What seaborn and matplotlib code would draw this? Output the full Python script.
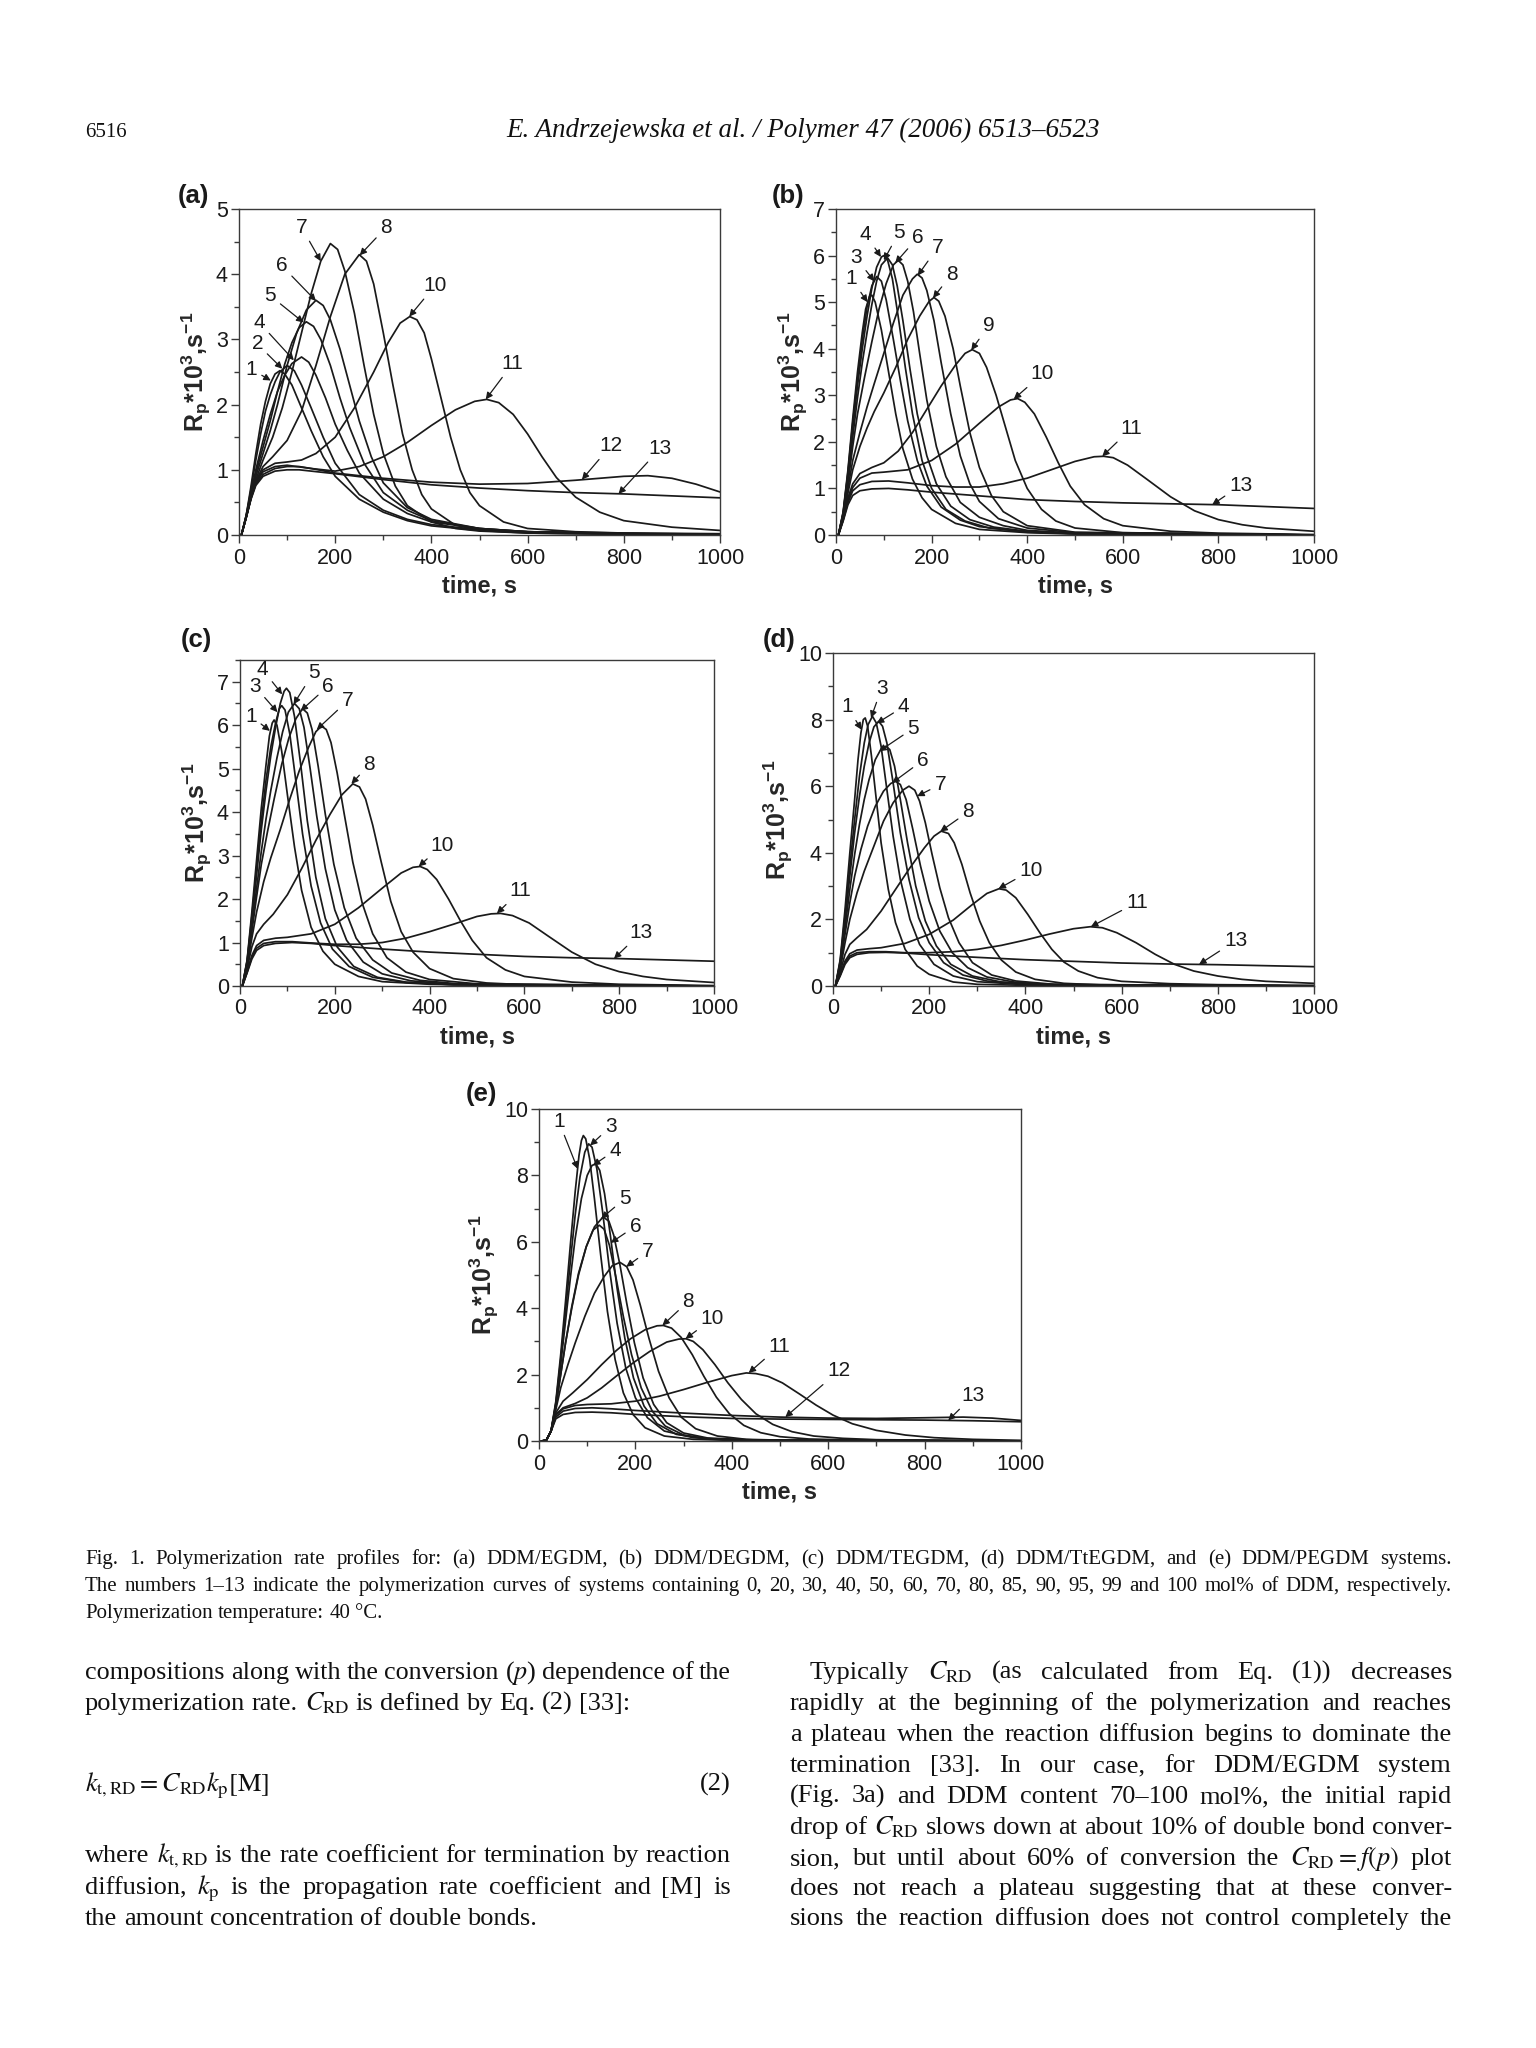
import matplotlib
matplotlib.use('Agg')
import matplotlib.pyplot as plt
from matplotlib.ticker import MultipleLocator
import pandas as pd
import seaborn as sns

W, H = 1536, 2048
INK = '#1a1a1a'

# Rp*10^3 (s^-1) against time (s)
# each curve is a list of (time, rate)

# (a) DDM/EGDM
A1 = [(5, 0), (15, 0.3), (25, 0.75), (35, 1.25), (45, 1.7), (55, 2.05), (65, 2.32), (75, 2.47), (85, 2.52),
      (95, 2.47), (110, 2.3), (130, 1.95), (150, 1.6), (175, 1.2), (200, 0.9), (250, 0.55), (300, 0.35),
      (350, 0.22), (400, 0.14), (500, 0.07), (600, 0.04), (800, 0.02), (1000, 0.01)]
A2 = [(5, 0), (15, 0.3), (25, 0.7), (35, 1.15), (45, 1.55), (55, 1.9), (65, 2.15), (75, 2.35), (85, 2.5),
      (100, 2.6), (115, 2.52), (130, 2.3), (150, 1.95), (175, 1.5), (200, 1.1), (250, 0.62), (300, 0.38),
      (350, 0.24), (400, 0.16), (500, 0.08), (600, 0.05), (800, 0.03), (1000, 0.02)]
A4 = [(5, 0), (15, 0.3), (25, 0.65), (35, 1.0), (50, 1.45), (65, 1.85), (80, 2.2), (95, 2.45), (110, 2.63),
      (130, 2.73), (145, 2.65), (160, 2.45), (180, 2.1), (200, 1.7), (225, 1.3), (250, 0.95), (300, 0.55),
      (350, 0.33), (400, 0.2), (500, 0.1), (600, 0.05), (800, 0.02), (1000, 0.01)]
A5 = [(5, 0), (15, 0.28), (25, 0.62), (35, 0.95), (50, 1.35), (65, 1.75), (80, 2.2), (95, 2.62), (110, 2.95),
      (125, 3.18), (140, 3.27), (155, 3.2), (170, 3.0), (190, 2.6), (210, 2.1), (230, 1.65), (260, 1.1),
      (300, 0.65), (350, 0.38), (400, 0.22), (500, 0.1), (600, 0.05), (800, 0.02), (1000, 0.01)]
A6 = [(5, 0), (15, 0.28), (25, 0.6), (35, 0.9), (50, 1.25), (65, 1.6), (80, 2.0), (100, 2.6), (120, 3.1),
      (140, 3.45), (160, 3.6), (175, 3.52), (190, 3.3), (210, 2.85), (230, 2.3), (250, 1.75), (275, 1.2),
      (300, 0.8), (350, 0.42), (400, 0.24), (500, 0.1), (600, 0.05), (800, 0.02), (1000, 0.01)]
A7 = [(5, 0), (15, 0.27), (25, 0.58), (35, 0.85), (50, 1.15), (70, 1.5), (90, 1.95), (110, 2.5), (130, 3.1),
      (150, 3.7), (170, 4.2), (190, 4.47), (205, 4.38), (220, 4.05), (240, 3.4), (260, 2.6), (280, 1.85),
      (300, 1.25), (325, 0.75), (350, 0.45), (400, 0.2), (450, 0.1), (500, 0.06), (600, 0.03), (800, 0.01),
      (1000, 0.0)]
A8 = [(5, 0), (15, 0.27), (25, 0.58), (35, 0.83), (50, 1.05), (70, 1.2), (100, 1.45), (130, 1.9), (160, 2.6),
      (190, 3.35), (220, 4.0), (250, 4.3), (265, 4.2), (280, 3.85), (300, 3.1), (320, 2.3), (340, 1.55),
      (360, 1.0), (380, 0.62), (400, 0.4), (450, 0.15), (500, 0.07), (600, 0.03), (800, 0.01), (1000, 0.0)]
A10 = [(5, 0), (15, 0.27), (25, 0.57), (35, 0.82), (50, 1.0), (75, 1.1), (100, 1.12), (130, 1.15), (160, 1.25),
       (200, 1.5), (240, 1.95), (280, 2.5), (310, 2.95), (335, 3.25), (355, 3.35), (370, 3.3), (385, 3.1),
       (400, 2.7), (420, 2.1), (440, 1.5), (460, 1.0), (480, 0.65), (500, 0.45), (550, 0.2), (600, 0.1),
       (700, 0.05), (800, 0.03), (1000, 0.01)]
A11 = [(5, 0), (15, 0.27), (25, 0.57), (35, 0.8), (50, 0.97), (75, 1.05), (100, 1.07), (150, 1.02), (200, 0.98),
       (250, 1.05), (300, 1.2), (350, 1.42), (400, 1.68), (450, 1.92), (490, 2.05), (515, 2.08), (540, 2.03),
       (570, 1.85), (600, 1.55), (630, 1.2), (660, 0.88), (700, 0.58), (750, 0.35), (800, 0.22), (900, 0.12),
       (1000, 0.07)]
A12 = [(5, 0), (15, 0.27), (25, 0.56), (35, 0.78), (50, 0.93), (75, 1.02), (100, 1.05), (125, 1.05), (150, 1.02),
       (200, 0.95), (300, 0.87), (400, 0.81), (500, 0.78), (600, 0.79), (700, 0.84), (800, 0.9), (850, 0.91),
       (900, 0.87), (950, 0.78), (1000, 0.66)]
A13 = [(5, 0), (15, 0.27), (25, 0.55), (35, 0.76), (50, 0.9), (75, 0.98), (100, 1.0), (125, 1.0), (150, 0.98),
       (200, 0.94), (300, 0.85), (400, 0.77), (500, 0.72), (600, 0.68), (700, 0.65), (800, 0.63), (900, 0.6),
       (1000, 0.57)]

# (b) DDM/DEGDM
B1 = [(5, 0), (15, 0.5), (25, 1.4), (35, 2.5), (45, 3.5), (55, 4.35), (62, 4.85), (70, 5.12), (75, 5.15),
      (82, 5.0), (95, 4.4), (110, 3.5), (125, 2.6), (140, 1.85), (160, 1.2), (180, 0.8), (200, 0.55),
      (250, 0.25), (300, 0.12), (400, 0.05), (500, 0.02), (1000, 0.0)]
B3 = [(5, 0), (15, 0.48), (25, 1.35), (35, 2.4), (45, 3.35), (55, 4.2), (65, 4.9), (75, 5.35), (85, 5.55),
      (95, 5.45), (105, 5.05), (120, 4.2), (135, 3.3), (150, 2.45), (170, 1.6), (190, 1.05), (220, 0.6),
      (260, 0.32), (300, 0.18), (400, 0.06), (500, 0.03), (1000, 0.0)]
B4 = [(5, 0), (15, 0.47), (25, 1.3), (35, 2.3), (45, 3.2), (55, 4.0), (65, 4.7), (75, 5.3), (85, 5.75),
      (95, 5.97), (100, 6.0), (108, 5.9), (118, 5.5), (130, 4.7), (145, 3.6), (160, 2.6), (180, 1.6),
      (200, 1.0), (230, 0.55), (270, 0.3), (320, 0.15), (400, 0.07), (500, 0.03), (1000, 0.0)]
B5 = [(5, 0), (15, 0.45), (25, 1.2), (35, 2.1), (45, 2.95), (55, 3.7), (65, 4.35), (75, 4.95), (85, 5.45),
      (95, 5.8), (108, 5.95), (118, 5.8), (128, 5.35), (140, 4.6), (155, 3.55), (170, 2.6), (190, 1.7),
      (210, 1.1), (240, 0.62), (280, 0.33), (330, 0.17), (400, 0.08), (500, 0.03), (1000, 0.0)]
B6 = [(5, 0), (15, 0.43), (25, 1.1), (35, 1.9), (45, 2.6), (60, 3.4), (75, 4.15), (90, 4.85), (105, 5.4),
      (120, 5.8), (130, 5.9), (140, 5.8), (150, 5.45), (162, 4.8), (175, 3.9), (190, 2.9), (210, 1.9),
      (230, 1.25), (260, 0.7), (300, 0.38), (350, 0.2), (400, 0.1), (500, 0.04), (1000, 0.0)]
B7 = [(5, 0), (15, 0.4), (25, 1.0), (35, 1.6), (50, 2.2), (65, 2.75), (80, 3.25), (100, 3.9), (120, 4.55),
      (140, 5.15), (160, 5.5), (170, 5.6), (180, 5.52), (190, 5.25), (205, 4.6), (220, 3.7), (240, 2.6),
      (260, 1.7), (280, 1.1), (300, 0.72), (340, 0.35), (400, 0.15), (500, 0.05), (1000, 0.0)]
B8 = [(5, 0), (15, 0.38), (25, 0.9), (35, 1.4), (50, 1.9), (65, 2.3), (80, 2.65), (100, 3.05), (125, 3.6),
      (150, 4.2), (175, 4.7), (195, 5.02), (205, 5.1), (215, 5.02), (228, 4.7), (245, 4.0), (260, 3.2),
      (280, 2.2), (300, 1.45), (325, 0.85), (350, 0.5), (400, 0.2), (500, 0.06), (1000, 0.0)]
B9 = [(5, 0), (15, 0.35), (25, 0.8), (35, 1.1), (50, 1.32), (75, 1.45), (100, 1.55), (130, 1.8), (160, 2.2),
      (190, 2.7), (220, 3.2), (250, 3.65), (270, 3.9), (285, 3.98), (300, 3.9), (315, 3.6), (335, 3.0),
      (355, 2.3), (375, 1.6), (400, 1.0), (430, 0.55), (460, 0.3), (500, 0.15), (600, 0.05), (1000, 0.0)]
B10 = [(5, 0), (15, 0.33), (25, 0.75), (35, 1.02), (50, 1.22), (75, 1.33), (100, 1.35), (150, 1.4), (200, 1.6),
       (250, 1.95), (300, 2.4), (340, 2.75), (365, 2.9), (380, 2.93), (395, 2.85), (415, 2.6), (440, 2.1),
       (465, 1.55), (490, 1.05), (520, 0.65), (560, 0.35), (600, 0.2), (700, 0.08), (800, 0.04), (1000, 0.01)]
B11 = [(5, 0), (15, 0.32), (25, 0.7), (35, 0.95), (50, 1.08), (75, 1.15), (110, 1.16), (150, 1.12), (200, 1.06),
       (250, 1.03), (300, 1.03), (350, 1.1), (400, 1.22), (450, 1.4), (500, 1.58), (540, 1.68), (560, 1.69),
       (580, 1.66), (610, 1.5), (650, 1.2), (700, 0.82), (750, 0.52), (800, 0.33), (850, 0.22), (900, 0.15),
       (1000, 0.08)]
B13 = [(5, 0), (15, 0.3), (25, 0.65), (35, 0.85), (50, 0.95), (75, 0.99), (110, 1.0), (150, 0.97), (200, 0.92),
       (300, 0.84), (400, 0.76), (500, 0.72), (600, 0.69), (700, 0.67), (800, 0.65), (900, 0.61), (1000, 0.57)]

# (c) DDM/TEGDM
C1 = [(5, 0), (15, 0.6), (25, 1.7), (35, 2.9), (45, 4.1), (55, 5.1), (62, 5.75), (68, 6.05), (72, 6.12),
      (78, 6.0), (88, 5.4), (100, 4.4), (115, 3.2), (130, 2.2), (150, 1.35), (175, 0.8), (200, 0.5),
      (250, 0.22), (300, 0.1), (400, 0.04), (500, 0.02), (1000, 0.0)]
C3 = [(5, 0), (15, 0.58), (25, 1.6), (35, 2.7), (45, 3.8), (55, 4.75), (65, 5.5), (75, 6.05), (83, 6.38),
      (88, 6.45), (95, 6.35), (105, 5.8), (118, 4.7), (132, 3.5), (150, 2.3), (170, 1.45), (195, 0.85),
      (230, 0.45), (280, 0.2), (350, 0.08), (450, 0.03), (1000, 0.0)]
C4 = [(5, 0), (15, 0.56), (25, 1.5), (35, 2.55), (45, 3.6), (55, 4.5), (65, 5.3), (75, 5.95), (85, 6.5),
      (93, 6.78), (98, 6.85), (105, 6.75), (115, 6.2), (128, 5.1), (142, 3.8), (160, 2.5), (180, 1.55),
      (205, 0.9), (240, 0.45), (290, 0.2), (350, 0.09), (450, 0.03), (1000, 0.0)]
C5 = [(5, 0), (15, 0.52), (25, 1.35), (35, 2.25), (45, 3.1), (55, 3.85), (65, 4.5), (78, 5.25), (90, 5.85),
      (102, 6.3), (115, 6.5), (125, 6.38), (135, 5.95), (148, 5.0), (162, 3.9), (180, 2.7), (200, 1.75),
      (225, 1.05), (260, 0.55), (300, 0.28), (360, 0.12), (450, 0.04), (1000, 0.0)]
C6 = [(5, 0), (15, 0.5), (25, 1.25), (35, 2.05), (45, 2.8), (58, 3.55), (72, 4.3), (88, 5.1), (103, 5.7),
      (118, 6.15), (132, 6.38), (142, 6.28), (152, 5.9), (165, 5.05), (180, 3.95), (198, 2.8), (220, 1.8),
      (245, 1.1), (280, 0.6), (320, 0.3), (380, 0.13), (460, 0.05), (1000, 0.0)]
C7 = [(5, 0), (15, 0.45), (25, 1.1), (35, 1.7), (50, 2.4), (65, 2.95), (85, 3.6), (105, 4.3), (125, 4.95),
      (145, 5.5), (160, 5.85), (172, 5.98), (182, 5.9), (192, 5.6), (205, 4.9), (220, 3.95), (238, 2.85),
      (258, 1.9), (280, 1.2), (310, 0.65), (350, 0.32), (400, 0.15), (500, 0.05), (1000, 0.0)]
C8 = [(5, 0), (15, 0.4), (25, 0.9), (35, 1.2), (50, 1.42), (70, 1.65), (100, 2.1), (130, 2.7), (160, 3.35),
      (190, 3.95), (215, 4.4), (238, 4.65), (252, 4.58), (265, 4.3), (280, 3.7), (298, 2.85), (318, 1.95),
      (340, 1.25), (365, 0.78), (400, 0.4), (450, 0.17), (520, 0.07), (600, 0.03), (1000, 0.0)]
C10 = [(5, 0), (15, 0.33), (25, 0.7), (35, 0.93), (50, 1.05), (75, 1.1), (100, 1.12), (150, 1.2), (200, 1.42),
       (250, 1.8), (300, 2.25), (340, 2.6), (365, 2.73), (380, 2.75), (395, 2.68), (415, 2.45), (440, 2.0),
       (465, 1.5), (490, 1.05), (520, 0.65), (560, 0.37), (600, 0.22), (700, 0.09), (800, 0.04), (1000, 0.01)]
C11 = [(5, 0), (15, 0.32), (25, 0.66), (35, 0.87), (50, 0.98), (75, 1.02), (110, 1.02), (150, 0.99), (200, 0.96),
       (250, 0.96), (300, 1.0), (350, 1.1), (400, 1.25), (450, 1.42), (500, 1.6), (530, 1.66), (550, 1.67),
       (575, 1.62), (610, 1.45), (650, 1.15), (700, 0.78), (750, 0.5), (800, 0.33), (850, 0.22), (900, 0.15),
       (1000, 0.08)]
C13 = [(5, 0), (15, 0.3), (25, 0.62), (35, 0.82), (50, 0.93), (75, 0.98), (110, 1.0), (150, 0.98), (200, 0.93),
       (300, 0.85), (400, 0.78), (500, 0.73), (600, 0.68), (700, 0.65), (800, 0.63), (900, 0.6), (1000, 0.57)]

# (d) DDM/TtEGDM
D1 = [(5, 0), (15, 0.8), (25, 2.3), (35, 4.0), (45, 5.6), (52, 6.8), (58, 7.6), (63, 8.0), (67, 8.05),
      (72, 7.8), (80, 6.9), (90, 5.6), (100, 4.3), (115, 2.9), (130, 1.9), (150, 1.1), (175, 0.6),
      (200, 0.35), (250, 0.12), (300, 0.05), (400, 0.02), (1000, 0.0)]
D3 = [(5, 0), (15, 0.75), (25, 2.1), (35, 3.6), (45, 5.0), (55, 6.3), (65, 7.3), (73, 7.85), (82, 8.1),
      (90, 7.9), (100, 7.2), (112, 5.9), (125, 4.5), (140, 3.2), (160, 2.0), (180, 1.25), (210, 0.65),
      (250, 0.3), (300, 0.13), (400, 0.04), (1000, 0.0)]
D4 = [(5, 0), (15, 0.7), (25, 1.95), (35, 3.3), (45, 4.6), (55, 5.7), (65, 6.6), (75, 7.3), (85, 7.78),
      (95, 7.95), (103, 7.8), (112, 7.3), (125, 6.1), (140, 4.6), (158, 3.2), (178, 2.05), (200, 1.3),
      (230, 0.7), (270, 0.33), (320, 0.15), (400, 0.05), (1000, 0.0)]
D5 = [(5, 0), (15, 0.65), (25, 1.75), (35, 2.9), (45, 3.95), (55, 4.85), (65, 5.6), (75, 6.2), (88, 6.8),
      (100, 7.12), (110, 7.2), (118, 7.1), (128, 6.6), (140, 5.6), (155, 4.3), (172, 3.0), (192, 1.95),
      (215, 1.2), (245, 0.65), (290, 0.3), (350, 0.12), (450, 0.04), (1000, 0.0)]
D6 = [(5, 0), (15, 0.6), (25, 1.55), (35, 2.5), (45, 3.3), (58, 4.1), (72, 4.8), (88, 5.4), (105, 5.85),
      (120, 6.08), (130, 6.15), (140, 6.05), (152, 5.6), (166, 4.7), (182, 3.6), (200, 2.55), (222, 1.65),
      (248, 1.0), (280, 0.55), (320, 0.27), (380, 0.11), (460, 0.04), (1000, 0.0)]
D7 = [(5, 0), (15, 0.5), (25, 1.3), (35, 2.0), (50, 2.8), (65, 3.45), (85, 4.2), (105, 4.95), (125, 5.5),
      (145, 5.88), (158, 6.0), (170, 5.88), (180, 5.55), (192, 4.9), (206, 3.95), (222, 2.95), (240, 2.05),
      (262, 1.3), (290, 0.7), (330, 0.33), (380, 0.15), (460, 0.05), (1000, 0.0)]
D8 = [(5, 0), (15, 0.42), (25, 0.95), (35, 1.25), (50, 1.45), (70, 1.7), (100, 2.25), (130, 2.9), (160, 3.55),
      (190, 4.15), (210, 4.5), (225, 4.65), (240, 4.58), (252, 4.3), (268, 3.65), (285, 2.8), (305, 1.95),
      (325, 1.3), (350, 0.78), (380, 0.42), (420, 0.2), (480, 0.08), (560, 0.03), (1000, 0.0)]
D10 = [(5, 0), (15, 0.35), (25, 0.75), (35, 0.97), (50, 1.08), (75, 1.12), (100, 1.15), (150, 1.28), (200, 1.55),
       (250, 1.98), (290, 2.45), (320, 2.78), (345, 2.92), (360, 2.88), (380, 2.65), (405, 2.15), (430, 1.6),
       (455, 1.1), (480, 0.72), (510, 0.45), (550, 0.25), (600, 0.14), (700, 0.07), (800, 0.04), (1000, 0.02)]
D11 = [(5, 0), (15, 0.33), (25, 0.7), (35, 0.9), (50, 1.0), (75, 1.03), (110, 1.03), (150, 1.0), (200, 1.0),
       (250, 1.03), (300, 1.1), (350, 1.22), (400, 1.38), (450, 1.56), (500, 1.72), (535, 1.78), (560, 1.75),
       (590, 1.6), (630, 1.3), (670, 0.95), (710, 0.65), (750, 0.45), (800, 0.3), (850, 0.2), (900, 0.14),
       (1000, 0.08)]
D13 = [(5, 0), (15, 0.3), (25, 0.65), (35, 0.85), (50, 0.95), (75, 1.0), (110, 1.01), (150, 0.99), (200, 0.94),
       (300, 0.86), (400, 0.79), (500, 0.74), (600, 0.69), (700, 0.66), (800, 0.64), (900, 0.61), (1000, 0.58)]

# (e) DDM/PEGDM
E1 = [(5, 0), (15, 0.02), (25, 0.3), (35, 1.2), (45, 2.6), (55, 4.2), (65, 5.9), (75, 7.5), (83, 8.6),
      (88, 9.05), (92, 9.2), (97, 9.1), (105, 8.5), (115, 7.3), (128, 5.6), (142, 3.9), (158, 2.45),
      (175, 1.45), (195, 0.8), (220, 0.4), (260, 0.15), (320, 0.05), (400, 0.02), (1000, 0.0)]
E3 = [(5, 0), (15, 0.02), (25, 0.3), (35, 1.15), (45, 2.45), (55, 3.9), (65, 5.4), (75, 6.8), (85, 7.95),
      (95, 8.7), (103, 8.95), (110, 8.85), (120, 8.2), (132, 6.9), (146, 5.2), (162, 3.55), (180, 2.2),
      (200, 1.3), (225, 0.7), (260, 0.3), (320, 0.1), (400, 0.03), (1000, 0.0)]
E4 = [(5, 0), (15, 0.02), (25, 0.3), (35, 1.1), (45, 2.3), (55, 3.6), (65, 4.9), (75, 6.1), (88, 7.3),
      (100, 8.0), (110, 8.3), (118, 8.35), (126, 8.15), (136, 7.45), (148, 6.2), (162, 4.6), (178, 3.1),
      (196, 1.9), (218, 1.05), (245, 0.52), (285, 0.2), (350, 0.06), (450, 0.02), (1000, 0.0)]
E5 = [(5, 0), (15, 0.02), (25, 0.3), (35, 1.05), (45, 2.0), (55, 2.95), (68, 4.0), (82, 5.0), (98, 5.85),
      (115, 6.45), (133, 6.75), (145, 6.62), (155, 6.2), (168, 5.3), (182, 4.15), (198, 2.95), (216, 1.9),
      (238, 1.1), (265, 0.55), (300, 0.24), (350, 0.09), (450, 0.03), (1000, 0.0)]
E6 = [(5, 0), (15, 0.02), (25, 0.3), (35, 1.05), (45, 2.0), (55, 2.95), (68, 4.05), (82, 5.05), (98, 5.85),
      (112, 6.35), (125, 6.5), (135, 6.38), (146, 5.9), (160, 4.9), (175, 3.75), (192, 2.6), (212, 1.6),
      (235, 0.9), (262, 0.45), (300, 0.18), (350, 0.07), (450, 0.02), (1000, 0.0)]
E7 = [(5, 0), (15, 0.02), (25, 0.3), (35, 0.95), (45, 1.6), (60, 2.3), (75, 2.95), (95, 3.75), (115, 4.45),
      (135, 4.95), (152, 5.28), (168, 5.38), (182, 5.25), (195, 4.85), (210, 4.1), (228, 3.1), (248, 2.1),
      (270, 1.3), (295, 0.72), (325, 0.37), (370, 0.15), (430, 0.05), (520, 0.02), (1000, 0.0)]
E8 = [(5, 0), (15, 0.02), (25, 0.3), (35, 0.85), (50, 1.2), (70, 1.45), (100, 1.85), (130, 2.3), (160, 2.72),
      (190, 3.08), (220, 3.35), (245, 3.47), (258, 3.48), (275, 3.4), (295, 3.12), (318, 2.6), (342, 1.95),
      (368, 1.32), (395, 0.82), (425, 0.47), (460, 0.25), (500, 0.13), (560, 0.06), (650, 0.03), (1000, 0.0)]
E10 = [(5, 0), (15, 0.02), (25, 0.3), (35, 0.8), (50, 1.0), (75, 1.13), (100, 1.3), (130, 1.6), (160, 1.95),
       (195, 2.35), (230, 2.7), (265, 2.98), (290, 3.07), (305, 3.08), (320, 3.0), (340, 2.75), (365, 2.3),
       (392, 1.75), (420, 1.25), (450, 0.82), (485, 0.5), (525, 0.28), (570, 0.15), (630, 0.08), (700, 0.04),
       (1000, 0.0)]
E11 = [(5, 0), (15, 0.02), (25, 0.3), (35, 0.78), (50, 0.97), (75, 1.07), (100, 1.1), (150, 1.12), (200, 1.2),
       (250, 1.35), (300, 1.55), (350, 1.77), (400, 1.97), (430, 2.05), (450, 2.03), (475, 1.95), (505, 1.75),
       (540, 1.42), (575, 1.08), (610, 0.78), (650, 0.52), (700, 0.32), (760, 0.18), (820, 0.1), (900, 0.05),
       (1000, 0.02)]
E12 = [(5, 0), (15, 0.02), (25, 0.3), (35, 0.72), (50, 0.9), (75, 0.98), (110, 1.0), (150, 0.97), (200, 0.92),
       (300, 0.84), (400, 0.77), (500, 0.72), (600, 0.69), (700, 0.68), (800, 0.7), (880, 0.72), (940, 0.69),
       (1000, 0.62)]
E13 = [(5, 0), (15, 0.02), (25, 0.3), (35, 0.67), (50, 0.8), (75, 0.86), (110, 0.87), (150, 0.85), (200, 0.8),
       (300, 0.73), (400, 0.68), (500, 0.66), (600, 0.65), (700, 0.64), (800, 0.63), (900, 0.61), (1000, 0.58)]

# curve numbers: (label, text time, text rate, arrow tip time, arrow tip rate)
A_NOTES = [('1', 26, 2.54, 66, 2.37), ('2', 38, 2.93, 90, 2.55), ('4', 42, 3.26, 114, 2.68),
           ('5', 65, 3.67, 134, 3.26), ('6', 89, 4.13, 160, 3.59), ('7', 130, 4.72, 170, 4.2),
           ('8', 306, 4.72, 251, 4.29), ('10', 408, 3.83, 354, 3.35), ('11', 569, 2.63, 513, 2.08),
           ('12', 773, 1.37, 713, 0.85), ('13', 876, 1.33, 789, 0.63)]
B_NOTES = [('1', 32, 5.51, 66, 5.0), ('3', 42, 5.95, 80, 5.45), ('4', 62, 6.46, 94, 5.97),
           ('5', 132, 6.5, 100, 5.9), ('6', 171, 6.39, 124, 5.84), ('7', 213, 6.18, 171, 5.57),
           ('8', 242, 5.6, 203, 5.09), ('9', 320, 4.5, 283, 3.97), ('10', 432, 3.46, 372, 2.92),
           ('11', 618, 2.29, 557, 1.69), ('13', 847, 1.07, 787, 0.65)]
C_NOTES = [('1', 23, 6.21, 63, 5.87), ('3', 31, 6.9, 79, 6.3), ('4', 47, 7.29, 89, 6.71),
           ('5', 155, 7.21, 113, 6.48), ('6', 186, 6.9, 128, 6.33), ('7', 227, 6.56, 162, 5.9),
           ('8', 273, 5.1, 235, 4.65), ('10', 427, 3.24, 377, 2.75), ('11', 591, 2.19, 542, 1.67),
           ('13', 846, 1.23, 789, 0.63)]
D_NOTES = [('1', 30, 8.39, 59, 7.7), ('3', 101, 8.94, 79, 8.05), ('4', 147, 8.39, 91, 7.89),
           ('5', 167, 7.74, 96, 7.05), ('6', 187, 6.78, 123, 6.1), ('7', 223, 6.05, 175, 5.7),
           ('8', 281, 5.23, 223, 4.64), ('10', 412, 3.47, 344, 2.92), ('11', 632, 2.51, 536, 1.78),
           ('13', 837, 1.36, 761, 0.65)]
E_NOTES = [('1', 41, 9.63, 80, 8.2), ('3', 149, 9.48, 106, 8.9), ('4', 158, 8.76, 112, 8.3),
           ('5', 178, 7.3, 129, 6.7), ('6', 200, 6.47, 149, 5.97), ('7', 226, 5.72, 181, 5.25),
           ('8', 310, 4.21, 256, 3.48), ('10', 360, 3.68, 304, 3.08), ('11', 499, 2.86, 435, 2.05),
           ('12', 622, 2.11, 511, 0.72), ('13', 901, 1.37, 849, 0.62)]

# figure caption and surrounding page text
HEADER_LEFT = '6516'
HEADER_TITLE = 'E. Andrzejewska et al. / Polymer 47 (2006) 6513\u20136523'
CAPTION = [
    'Fig. 1. Polymerization rate profiles for: (a) DDM/EGDM, (b) DDM/DEGDM, (c) DDM/TEGDM, '
    '(d) DDM/TtEGDM, and (e) DDM/PEGDM systems.',
    'The numbers 1\u201313 indicate the polymerization curves of systems containing 0, 20, 30, 40, 50, '
    '60, 70, 80, 85, 90, 95, 99 and 100 mol% of DDM, respectively.',
    'Polymerization temperature: 40 \u00b0C.',
]
LEFT_COL = [
    'compositions along with the conversion ($p$) dependence of the',
    r'polymerization rate. $C_{\mathrm{RD}}$ is defined by Eq. (2) [33]:',
]
EQUATION = r'$k_{\mathrm{t,RD}} = C_{\mathrm{RD}}k_{\mathrm{p}}[\mathrm{M}]$'
LEFT_COL2 = [
    r'where $k_{\mathrm{t,RD}}$ is the rate coefficient for termination by reaction',
    r'diffusion, $k_{\mathrm{p}}$ is the propagation rate coefficient and [M] is',
    'the amount concentration of double bonds.',
]
RIGHT_COL = [
    r'Typically $C_{\mathrm{RD}}$ (as calculated from Eq. (1)) decreases',
    'rapidly at the beginning of the polymerization and reaches',
    'a plateau when the reaction diffusion begins to dominate the',
    'termination [33]. In our case, for DDM/EGDM system',
    '(Fig. 3a) and DDM content 70\u2013100 mol%, the initial rapid',
    r'drop of $C_{\mathrm{RD}}$ slows down at about 10% of double bond conver-',
    r'sion, but until about 60% of conversion the $C_{\mathrm{RD}}=f(p)$ plot',
    'does not reach a plateau suggesting that at these conver-',
    'sions the reaction diffusion does not control completely the',
]

sns.set_theme(style='ticks', rc={
    'axes.edgecolor': '#3a3a3a', 'axes.linewidth': 1.0,
    'xtick.color': '#3a3a3a', 'ytick.color': '#3a3a3a',
    'xtick.labelcolor': INK, 'ytick.labelcolor': INK,
    'mathtext.fontset': 'custom', 'mathtext.rm': 'Liberation Sans',
    'mathtext.bf': 'Liberation Sans:bold', 'mathtext.it': 'Liberation Sans:italic',
})
plt.rcParams['font.family'] = ['Liberation Sans', 'DejaVu Sans']

fig = plt.figure(figsize=(W / 100, H / 100), dpi=100)
fig.patch.set_facecolor('white')
rend = fig.canvas.get_renderer()

YLAB = r'R$_{\mathbf{p}}$*10$^{\mathbf{3}}$,s$^{\mathbf{-1}}$'


def draw_panel(box, tag, tag_xy, curves, notes, ytop, ystep):
    l, t, r, b = box
    ax = fig.add_axes([l / W, 1 - b / H, (r - l) / W, (b - t) / H])
    for pts in curves:
        df = pd.DataFrame(pts, columns=['time', 'rate'])
        sns.lineplot(data=df, x='time', y='rate', ax=ax, color=INK, lw=1.25,
                     estimator=None, sort=False)
    ax.set_xlim(0, 1000)
    ax.set_ylim(0, ytop)
    ax.xaxis.set_major_locator(MultipleLocator(200))
    ax.xaxis.set_minor_locator(MultipleLocator(100))
    ax.yaxis.set_major_locator(MultipleLocator(ystep))
    ax.yaxis.set_minor_locator(MultipleLocator(ystep / 2))
    ax.tick_params(which='both', direction='out', top=False, right=False, width=1, labelsize=15.5, pad=3)
    ax.tick_params(axis='y', which='both', pad=2)
    ax.tick_params(which='major', length=6)
    ax.tick_params(which='minor', length=3.5)
    for s in ax.spines.values():
        s.set_visible(True)
    ax.set_xlabel('time, s', fontsize=17, fontweight='bold', labelpad=4)
    ax.set_ylabel(YLAB, fontsize=18, fontweight='bold', labelpad=2)
    for lab, tx, ty, px, py in notes:
        ax.annotate(lab, xy=(px, py), xytext=(tx, ty), fontsize=15, color=INK,
                    ha='center', va='center',
                    arrowprops=dict(arrowstyle='-|>', color=INK, lw=0.9,
                                    mutation_scale=10, shrinkA=1, shrinkB=0))
    fig.text(tag_xy[0] / W, 1 - tag_xy[1] / H, tag, fontsize=18.5, fontweight='bold',
             ha='center', va='center', color=INK)
    return ax


draw_panel((239, 209, 720, 535), '(a)', (193, 196),
           [A1, A2, A4, A5, A6, A7, A8, A10, A11, A12, A13], A_NOTES, 5, 1)
draw_panel((836, 209, 1314, 535), '(b)', (788, 196),
           [B1, B3, B4, B5, B6, B7, B8, B9, B10, B11, B13], B_NOTES, 7, 1)
draw_panel((240, 660, 714, 986), '(c)', (196, 640),
           [C1, C3, C4, C5, C6, C7, C8, C10, C11, C13], C_NOTES, 7.5, 1)
draw_panel((833, 653, 1314, 986), '(d)', (779, 640),
           [D1, D3, D4, D5, D6, D7, D8, D10, D11, D13], D_NOTES, 10, 2)
draw_panel((539, 1109, 1021, 1441), '(e)', (481, 1094),
           [E1, E3, E4, E5, E6, E7, E8, E10, E11, E12, E13], E_NOTES, 10, 2)


# ---- page text (pixel positions, justified like the typeset page)
SERIF = 'Liberation Serif'


def put_line(text, x0, x1, y, size, justify=True, **kw):
    words = text.split(' ')
    arts = [fig.text(x0 / W, 1 - y / H, w, fontsize=size, va='baseline', family=SERIF,
                     color='#111111', math_fontfamily='stix', **kw) for w in words]
    widths = [a.get_window_extent(renderer=rend).width for a in arts]
    em = size * 100 / 72
    natural = sum(widths) + 0.22 * em * (len(words) - 1)
    if natural > x1 - x0:
        # too long for the column at this size: shrink this line a little
        k = (x1 - x0) / natural
        size *= k
        em *= k
        for a in arts:
            a.set_fontsize(size)
        widths = [w * k for w in widths]
    gap = em * 0.25
    if justify and len(words) > 1:
        gap = (x1 - x0 - sum(widths)) / (len(words) - 1)
    x = x0
    for a, w in zip(arts, widths):
        a.set_x(x / W)
        x += w + gap


def fit_text(text, xc, y, width, size, **kw):
    t = fig.text(xc / W, 1 - y / H, text, fontsize=size, va='baseline', ha='center',
                 family=SERIF, color='#111111', **kw)
    w = t.get_window_extent(renderer=rend).width
    t.set_fontsize(size * width / w)


fig.text(85 / W, 1 - 137 / H, HEADER_LEFT, fontsize=15, va='baseline', family=SERIF, color='#111111')
fit_text(HEADER_TITLE, 803, 137, 596, 14, style='italic')

cap_y = [1564, 1591, 1618]
for i, line in enumerate(CAPTION):
    put_line(line, 85, 1452, cap_y[i], 15, justify=(i < 2))

BODY = 19
put_line(LEFT_COL[0], 85, 731, 1679, BODY)
put_line(LEFT_COL[1], 85, 731, 1710, BODY, justify=False)
fig.text(85 / W, 1 - 1791 / H, EQUATION, fontsize=BODY, va='baseline', family=SERIF,
         color='#111111', math_fontfamily='stix')
fig.text(731 / W, 1 - 1791 / H, '(2)', fontsize=BODY, va='baseline', ha='right', family=SERIF,
         color='#111111')
for i, (line, y) in enumerate(zip(LEFT_COL2, [1862, 1894, 1925])):
    put_line(line, 85, 731, y, BODY, justify=(i < 2))

right_y = [1679, 1710, 1741, 1772, 1803, 1834, 1865, 1895, 1925]
for i, (line, y) in enumerate(zip(RIGHT_COL, right_y)):
    put_line(line, 810 if i == 0 else 790, 1452, y, BODY)

fig.savefig('out.png', dpi=100, facecolor='white')
